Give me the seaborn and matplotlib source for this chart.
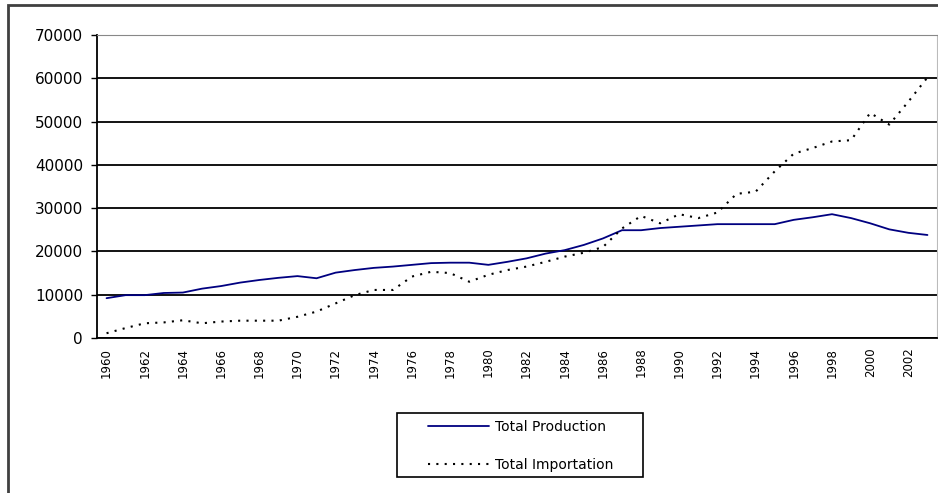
import numpy as np
import pandas as pd
import matplotlib
matplotlib.use('Agg')
import matplotlib.pyplot as plt
from matplotlib.patches import Rectangle
import seaborn as sns

# data
years = list(range(1960, 2004))
production = [9200, 9900, 9900, 10400, 10500, 11400, 12000, 12800, 13400, 13900,
              14300, 13800, 15100, 15700, 16200, 16500, 16900, 17300, 17400, 17400,
              16900, 17600, 18400, 19500, 20300, 21500, 23000, 24900, 24900, 25400,
              25700, 26000, 26300, 26300, 26300, 26300, 27300, 27900, 28600, 27700,
              26500, 25100, 24300, 23800]
importation = [1100, 2300, 3400, 3600, 4100, 3400, 3800, 4000, 4000, 4000,
               4900, 6100, 8000, 9900, 11100, 11100, 14200, 15300, 15000, 13000,
               14600, 15700, 16500, 17600, 18800, 19700, 21000, 25300, 28200, 26500,
               28600, 27700, 29000, 33300, 33800, 38500, 42600, 43900, 45400, 45700,
               52000, 49300, 54600, 60200]
y_ticks = [0, 10000, 20000, 30000, 40000, 50000, 60000, 70000]

df = pd.DataFrame({'pos': np.arange(len(years)), 'year': years,
                   'Total Production': production,
                   'Total Importation': importation})

sns.set_style('white')
plt.rcParams['font.family'] = ['DejaVu Sans']
plt.rcParams['text.color'] = 'black'
plt.rcParams['xtick.labelcolor'] = 'black'
plt.rcParams['ytick.labelcolor'] = 'black'

W, H = 938, 493
fig = plt.figure(figsize=(W / 100, H / 100), dpi=100)
ax = fig.add_axes([97 / W, 1 - 338 / H, (937 - 97) / W, 303 / H])

sns.lineplot(data=df, x='pos', y='Total Production', color='#000080', lw=1.3,
             ax=ax, label='Total Production')
sns.lineplot(data=df, x='pos', y='Total Importation', color='black', lw=1.5,
             linestyle=(0, (1, 3)), ax=ax, label='Total Importation')
handles, labels = ax.get_legend_handles_labels()
ax.legend_.remove()

ax.set_ylim(0, 70000)
ax.set_yticks(y_ticks)
ax.set_yticklabels([str(v) for v in y_ticks], fontsize=11, color='black')
ax.yaxis.grid(True, color='black', lw=1.3)
ax.get_ygridlines()[-1].set_color('#888888')
ax.set_axisbelow(True)

ax.set_xlim(-0.5, len(years) - 0.5)
ax.set_xticks(df['pos'][::2])
ax.set_xticklabels([str(y) for y in years[::2]], rotation=90, fontsize=8.5, color='black')
ax.set_xticks(np.arange(-0.5, len(years), 1), minor=True)
ax.tick_params(axis='x', which='major', length=0, pad=7)
ax.tick_params(axis='x', which='minor', length=4, width=1, color='black', direction='out')
ax.tick_params(axis='y', length=4, width=1, color='black', direction='out', pad=6, left=True)
ax.set_xlabel('')
ax.set_ylabel('')

for side in ['left', 'bottom']:
    ax.spines[side].set_color('black')
    ax.spines[side].set_linewidth(1.3)
ax.spines['top'].set_color('#888888')
ax.spines['right'].set_color('#bbbbbb')

# chart area border (only left and top visible in the reference crop)
fig.add_artist(Rectangle((8 / W, -0.1), 1.2, 1 - 5 / H + 0.1, transform=fig.transFigure,
                         fill=False, ec='#404040', lw=2))

# legend
fs = 10
leg = fig.legend(handles, labels, loc='center left',
                 bbox_to_anchor=((428 - 0.4 * fs * 1.39) / W, 1 - 446 / H),
                 frameon=False, fontsize=fs, handlelength=4.4, handletextpad=0.4,
                 labelspacing=1.75, borderaxespad=0)
for t in leg.get_texts():
    t.set_color('black')
fig.add_artist(Rectangle((397 / W, 1 - 477 / H), (643 - 397) / W, 64 / H,
                         transform=fig.transFigure, fill=False, ec='black', lw=1.2))

fig.savefig('out.png', dpi=100)
